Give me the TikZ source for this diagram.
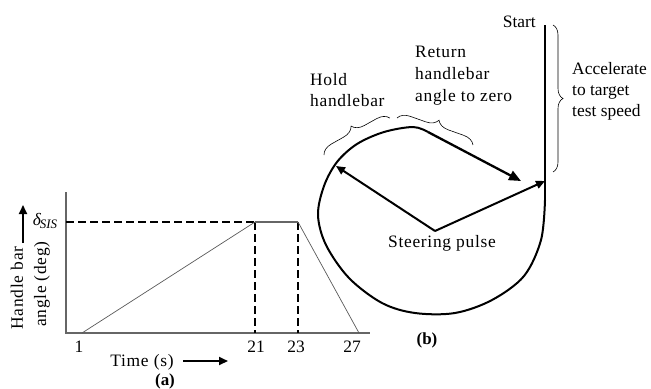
\documentclass[tikz,border=0pt]{standalone}
\usepackage{fontspec}
\setmainfont{Liberation Serif}
\newfontfamily\spaced[LetterSpace=4]{Liberation Serif}
\usetikzlibrary{arrows.meta,decorations.pathreplacing}
\begin{document}
\begin{tikzpicture}[x=1bp,y=-1bp,
  txt/.style={font=\fontsize{17.5}{21}\selectfont, inner sep=0pt},
  stxt/.style={font=\fontsize{17.5}{21}\selectfont\spaced, inner sep=0pt},
  lbl/.style={font=\fontsize{17}{21}\selectfont\bfseries, inner sep=0pt},
  axis/.style={draw=black!60, line width=1.3bp},
  thinline/.style={draw=black!65, line width=0.7bp},
  dashline/.style={draw=black, line width=2bp, dash pattern=on 8bp off 4bp},
  heavy/.style={draw=black, line width=2bp},
  arr/.style={heavy, -{Triangle[length=9bp,width=8bp]}},
  bigarr/.style={draw=black, line width=2.3bp, -{Triangle[length=12bp,width=10bp]}},
  brc/.style={draw=black, line width=0.6bp, decorate, decoration={brace, amplitude=#1}}
]
\useasboundingbox (0,0) rectangle (651,388);

% ---------- (a) plot ----------
\coordinate (o) at (66,333);
\coordinate (ytop) at (66,192);
\coordinate (xend) at (370,333);
\coordinate (p1) at (82,333);
\coordinate (p21) at (255,222);
\coordinate (p23) at (298,222);
\coordinate (p27) at (359,333);
\coordinate (d0) at (66,222);
\coordinate (b21) at (255,333);
\coordinate (b23) at (298,333);

\draw[axis] (ytop) -- (o) -- (xend);
\draw[dashline] (d0) -- (p21);
\draw[dashline] (p21) -- (b21);
\draw[dashline] (p23) -- (b23);
\draw[thinline] (p1) -- (p21);
\draw[axis] (p21) -- (p23);
\draw[thinline] (p23) -- (p27);

\node[txt] (t1) at (79,347) {1};
\node[txt] (t21) at (256,347) {21};
\node[txt] (t23) at (296,347) {23};
\node[txt] (t27) at (352,347) {27};
\node[stxt] (time) at (142,362) {Time (s)};
\coordinate (ta0) at (183,361);
\coordinate (ta1) at (228,361);
\draw[arr] (ta0) -- (ta1);
\node[lbl] (la) at (165,381) {(a)};

\node[stxt, rotate=90] (hb) at (17,288) {Handle bar};
\node[stxt, rotate=90] (ad) at (42,284) {angle (deg)};
\coordinate (ya0) at (23,243);
\coordinate (ya1) at (23,205);
\draw[arr] (ya0) -- (ya1);
\node[txt] (dsis) at (45,221) {\itshape δ\kern-1pt\raisebox{-3bp}{\fontsize{13}{15}\selectfont SIS}};

% ---------- (b) loop ----------
\coordinate (st) at (545,25);
\coordinate (lb) at (545,200);
\coordinate (lt) at (428,132);
\coordinate (rt) at (521,181);
\draw[heavy] (st) -- (lb);
\draw[heavy, line join=round] plot[smooth, tension=0.55] coordinates {
 (545,200) (541,240) (524,276) (492,300) (455,313) (415,313) (382,303)
 (349,278) (326,245) (318,215) (324,186) (337,162) (357,144) (384,132) (413,127) (428,132)};
\draw[bigarr] (lt) -- (rt);

\coordinate (sp) at (435,231);
\coordinate (spl) at (336,166);
\coordinate (spr) at (545,181);
\draw[arr] (sp) -- (spl);
\draw[arr] (sp) -- (spr);
\node[stxt] (steer) at (442,243) {Steering pulse};
\node[lbl] (lb2) at (427,340) {(b)};

\node[txt, anchor=east] (start) at (536,22) {Start};

% braces
\coordinate (ba0) at (553,25);
\coordinate (ba1) at (553,172);
\draw[brc=10bp] (ba0) -- (ba1);
\node[txt, align=left, anchor=west] (acc) at (572,91) {Accelerate\\to target\\test speed};

\coordinate (bh0) at (324,155);
\coordinate (bh1) at (390,118);
\draw[brc=12bp] (bh0) -- (bh1);
\node[stxt, align=left, anchor=west] (hold) at (310,90) {Hold\\handlebar};

\coordinate (br0) at (397,118);
\coordinate (br1) at (473,145);
\draw[brc=12bp] (br0) -- (br1);
\node[stxt, align=left, anchor=west, font=\fontsize{17.5}{22}\selectfont\spaced] (ret) at (415,76) {Return\\handlebar\\angle to zero};
\end{tikzpicture}
\end{document}
